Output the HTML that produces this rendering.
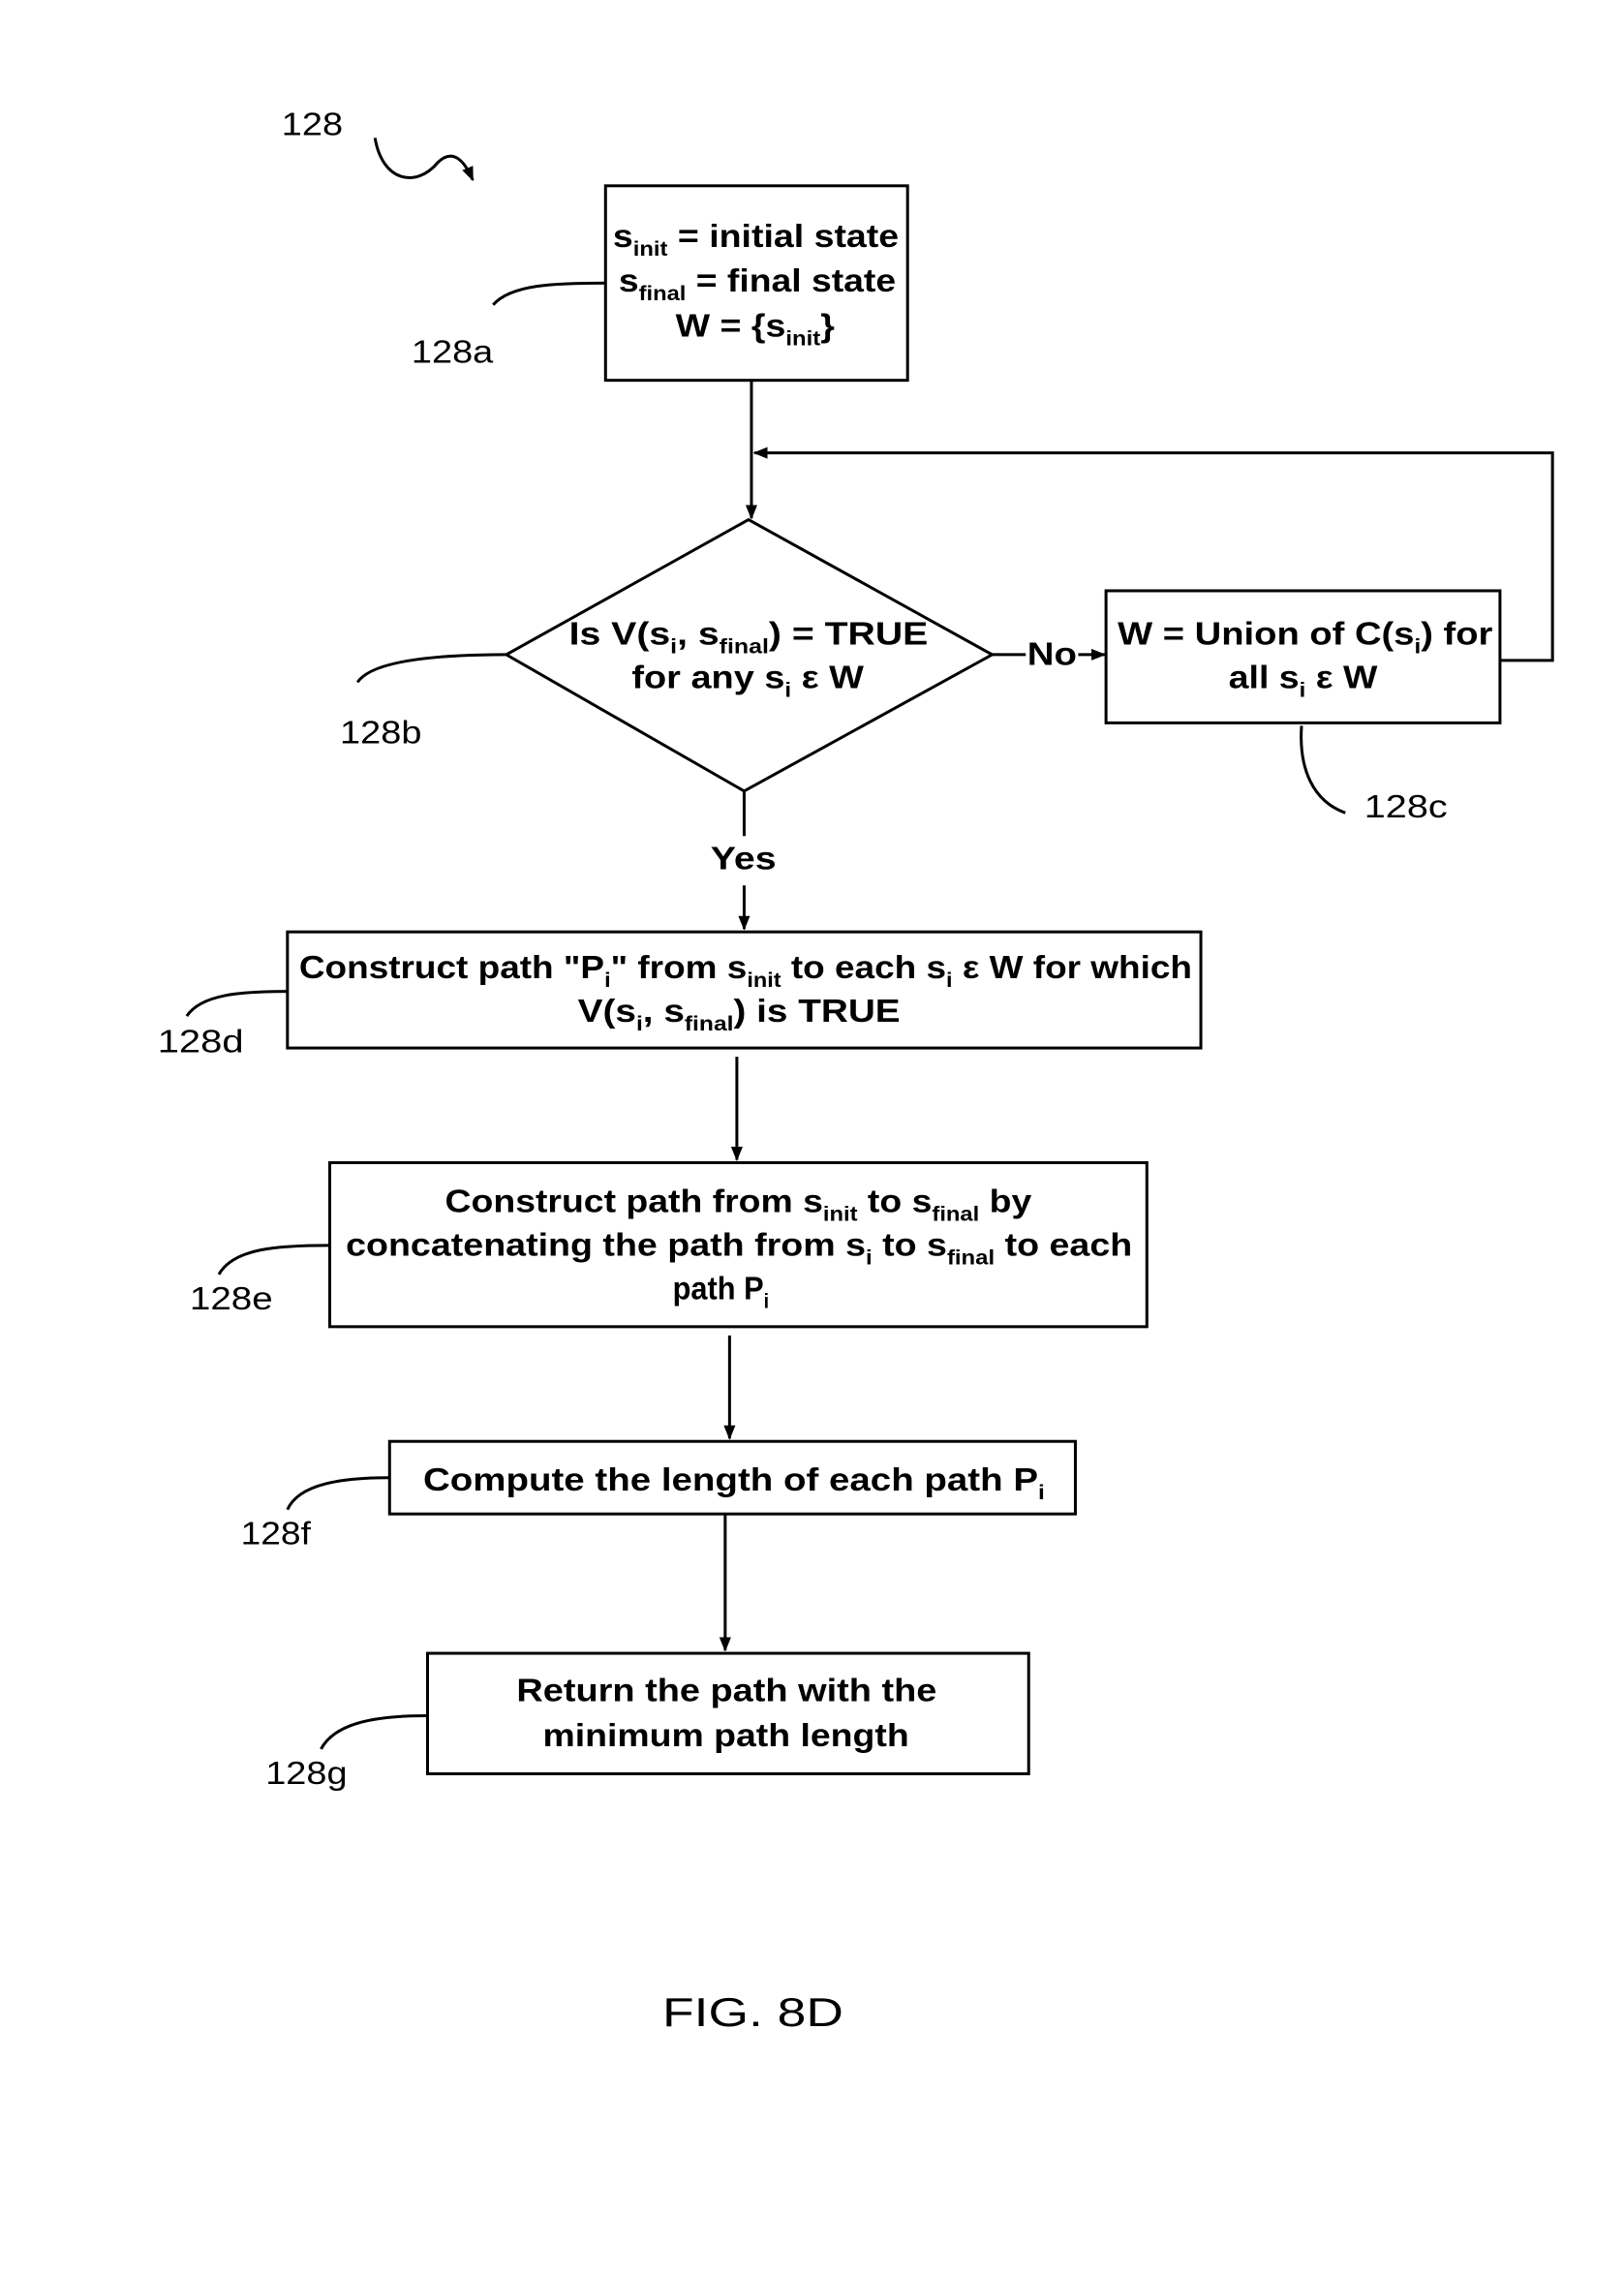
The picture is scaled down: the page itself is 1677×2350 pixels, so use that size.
<!DOCTYPE html>
<html><head><meta charset="utf-8"><style>
html,body{margin:0;padding:0;background:#fff;}
svg{display:block;}
text{font-family:"Liberation Sans",Arial,sans-serif;fill:#000;}
.t{font-size:22px;font-weight:bold;}
.n{font-size:22px;font-weight:normal;}
.s{font-size:14px;font-weight:bold;}
</style></head><body>
<svg width="1677" height="2350" viewBox="0 0 1113 1568" preserveAspectRatio="none" xmlns="http://www.w3.org/2000/svg">
<defs><marker id="a" markerWidth="10" markerHeight="10" refX="9" refY="5" orient="auto" markerUnits="userSpaceOnUse"><path d="M0,1 L10,5 L0,9 Z" fill="#000"/></marker></defs>
<g fill="none" stroke="#000" stroke-width="2">
<path d="M257,95 C262,125 285,130 300,112 C310,102 318,110 324,124" marker-end="url(#a)"/>
<rect x="415" y="128" width="207" height="134"/>
<path d="M338,210 C350,196 380,195 415,195"/>
<line x1="515" y1="262" x2="515" y2="357" marker-end="url(#a)"/>
<path d="M1028,455 L1064,455 L1064,312 L517,312" marker-end="url(#a)"/>
<polygon points="513,358 680,451 510,545 347,451"/>
<line x1="680" y1="451" x2="703" y2="451"/>
<line x1="739" y1="451" x2="757" y2="451" marker-end="url(#a)"/>
<rect x="758" y="407" width="270" height="91"/>
<path d="M892,500 C890,530 900,552 922,560"/>
<path d="M245,470 C255,455 300,451 347,451"/>
<line x1="510" y1="545" x2="510" y2="576"/>
<line x1="510" y1="610" x2="510" y2="640" marker-end="url(#a)"/>
<rect x="197" y="642" width="626" height="80"/>
<path d="M128,700 C138,685 165,683 197,683"/>
<line x1="505" y1="728" x2="505" y2="799" marker-end="url(#a)"/>
<rect x="226" y="801" width="560" height="113"/>
<path d="M150,878 C160,860 190,858 226,858"/>
<line x1="500" y1="920" x2="500" y2="991" marker-end="url(#a)"/>
<rect x="267" y="993" width="470" height="50"/>
<path d="M197,1040 C205,1022 235,1018 267,1018"/>
<line x1="497" y1="1043" x2="497" y2="1137" marker-end="url(#a)"/>
<rect x="293" y="1139" width="412" height="83"/>
<path d="M220,1205 C230,1186 260,1182 293,1182"/>
</g>
<text class="n" x="193" y="93" textLength="42" lengthAdjust="spacingAndGlyphs">128</text>
<text class="n" x="282" y="250" textLength="56" lengthAdjust="spacingAndGlyphs">128a</text>
<text class="n" x="233" y="512" textLength="56" lengthAdjust="spacingAndGlyphs">128b</text>
<text class="n" x="935" y="563" textLength="57" lengthAdjust="spacingAndGlyphs">128c</text>
<text class="n" x="108" y="725" textLength="59" lengthAdjust="spacingAndGlyphs">128d</text>
<text class="n" x="130" y="902" textLength="57" lengthAdjust="spacingAndGlyphs">128e</text>
<text class="n" x="165" y="1064" textLength="48" lengthAdjust="spacingAndGlyphs">128f</text>
<text class="n" x="182" y="1229" textLength="56" lengthAdjust="spacingAndGlyphs">128g</text>

<text class="t" x="420" y="170" textLength="196" lengthAdjust="spacingAndGlyphs">s<tspan class="s" dy="6">init</tspan><tspan dy="-6"> = initial state</tspan></text>
<text class="t" x="424" y="201" textLength="190" lengthAdjust="spacingAndGlyphs">s<tspan class="s" dy="6">final</tspan><tspan dy="-6"> = final state</tspan></text>
<text class="t" x="463" y="232" textLength="109" lengthAdjust="spacingAndGlyphs">W = {s<tspan class="s" dy="6">init</tspan><tspan dy="-6">}</tspan></text>

<text class="t" x="390" y="444" textLength="246" lengthAdjust="spacingAndGlyphs">Is V(s<tspan class="s" dy="6">i</tspan><tspan dy="-6">, s</tspan><tspan class="s" dy="6">final</tspan><tspan dy="-6">) = TRUE</tspan></text>
<text class="t" x="433" y="474" textLength="159" lengthAdjust="spacingAndGlyphs">for any s<tspan class="s" dy="6">i</tspan><tspan dy="-6"> ε W</tspan></text>
<text class="t" x="704" y="458" textLength="34" lengthAdjust="spacingAndGlyphs">No</text>
<text class="t" x="487" y="599" textLength="45" lengthAdjust="spacingAndGlyphs">Yes</text>

<text class="t" x="766" y="444" textLength="257" lengthAdjust="spacingAndGlyphs">W = Union of C(s<tspan class="s" dy="6">i</tspan><tspan dy="-6">) for</tspan></text>
<text class="t" x="842" y="474" textLength="102" lengthAdjust="spacingAndGlyphs">all s<tspan class="s" dy="6">i</tspan><tspan dy="-6"> ε W</tspan></text>

<text class="t" x="205" y="674" textLength="612" lengthAdjust="spacingAndGlyphs">Construct path "P<tspan class="s" dy="6">i</tspan><tspan dy="-6">" from s</tspan><tspan class="s" dy="6">init</tspan><tspan dy="-6"> to each s</tspan><tspan class="s" dy="6">i</tspan><tspan dy="-6"> ε W for which</tspan></text>
<text class="t" x="396" y="704" textLength="221" lengthAdjust="spacingAndGlyphs">V(s<tspan class="s" dy="6">i</tspan><tspan dy="-6">, s</tspan><tspan class="s" dy="6">final</tspan><tspan dy="-6">) is TRUE</tspan></text>

<text class="t" x="305" y="835" textLength="402" lengthAdjust="spacingAndGlyphs">Construct path from s<tspan class="s" dy="6">init</tspan><tspan dy="-6"> to s</tspan><tspan class="s" dy="6">final</tspan><tspan dy="-6"> by</tspan></text>
<text class="t" x="237" y="865" textLength="539" lengthAdjust="spacingAndGlyphs">concatenating the path from s<tspan class="s" dy="6">i</tspan><tspan dy="-6"> to s</tspan><tspan class="s" dy="6">final</tspan><tspan dy="-6"> to each</tspan></text>
<text class="t" x="461" y="895" textLength="66" lengthAdjust="spacingAndGlyphs">path P<tspan class="s" dy="6">i</tspan></text>

<text class="t" x="290" y="1027" textLength="426" lengthAdjust="spacingAndGlyphs">Compute the length of each path P<tspan class="s" dy="6">i</tspan></text>

<text class="t" x="354" y="1172" textLength="288" lengthAdjust="spacingAndGlyphs">Return the path with the</text>
<text class="t" x="372" y="1203" textLength="251" lengthAdjust="spacingAndGlyphs">minimum path length</text>

<text x="454" y="1396" style="font-size:28px" textLength="124" lengthAdjust="spacingAndGlyphs">FIG. 8D</text>
</svg>
</body></html>
